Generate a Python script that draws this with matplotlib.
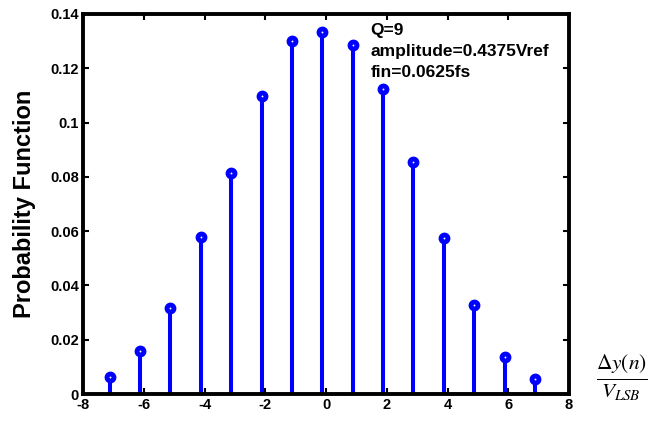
import matplotlib
matplotlib.use('Agg')
import matplotlib.pyplot as plt
import numpy as np

# stem positions (code offset) and probability values
codes = np.arange(-7, 8)
offset = -0.125
prob = [0.0062, 0.0158, 0.0318, 0.0580, 0.0815, 0.1098, 0.1302, 0.1335,
        0.1286, 0.1123, 0.0855, 0.0573, 0.0327, 0.0136, 0.0056]

xticks = [-8, -6, -4, -2, 0, 2, 4, 6, 8]
yticks = [0, 0.02, 0.04, 0.06, 0.08, 0.1, 0.12, 0.14]
ytick_labels = ['0', '0.02', '0.04', '0.06', '0.08', '0.1', '0.12', '0.14']
info = ['Q=9', 'amplitude=0.4375Vref', 'fin=0.0625fs']

plt.rcParams['font.family'] = ['Liberation Sans', 'DejaVu Sans']
plt.rcParams['mathtext.fontset'] = 'stix'
plt.rcParams['axes.unicode_minus'] = False

fig = plt.figure(figsize=(6.49, 4.36), dpi=100)
ax = fig.add_axes([0.128, 0.0963, 0.7488, 0.8716])

x = codes + offset
ml, sl, bl = ax.stem(x, prob, basefmt=' ')
plt.setp(sl, color='#0000ff', linewidth=2.9)
plt.setp(ml, color='#0000ff', marker='o', markersize=5.0,
         markerfacecolor='white', markeredgewidth=3.5)

ax.set_xlim(-8, 8)
ax.set_ylim(0, 0.14)
ax.set_xticks(xticks)
ax.set_yticks(yticks)
ax.set_yticklabels(ytick_labels)
for t in ax.get_xticklabels() + ax.get_yticklabels():
    t.set_fontweight('bold')
ax.tick_params(direction='in', length=4, width=1.5, labelsize=10.5,
               top=True, right=True, pad=3)

for s in ax.spines.values():
    s.set_linewidth(2.8)

ax.set_ylabel('Probability Function', fontsize=17, fontweight='bold', labelpad=10)

# info text in the upper right
for i, line in enumerate(info):
    ax.text(1.46, 0.1339 - i * 0.0077, line, fontsize=12.5, fontweight='bold',
            va='center', ha='left')

fig.text(0.958, 0.133, r'$\frac{\Delta y\left(n\right)}{V_{LSB}}$',
         fontsize=22, ha='center', va='center')

fig.savefig('out.png', dpi=100)
